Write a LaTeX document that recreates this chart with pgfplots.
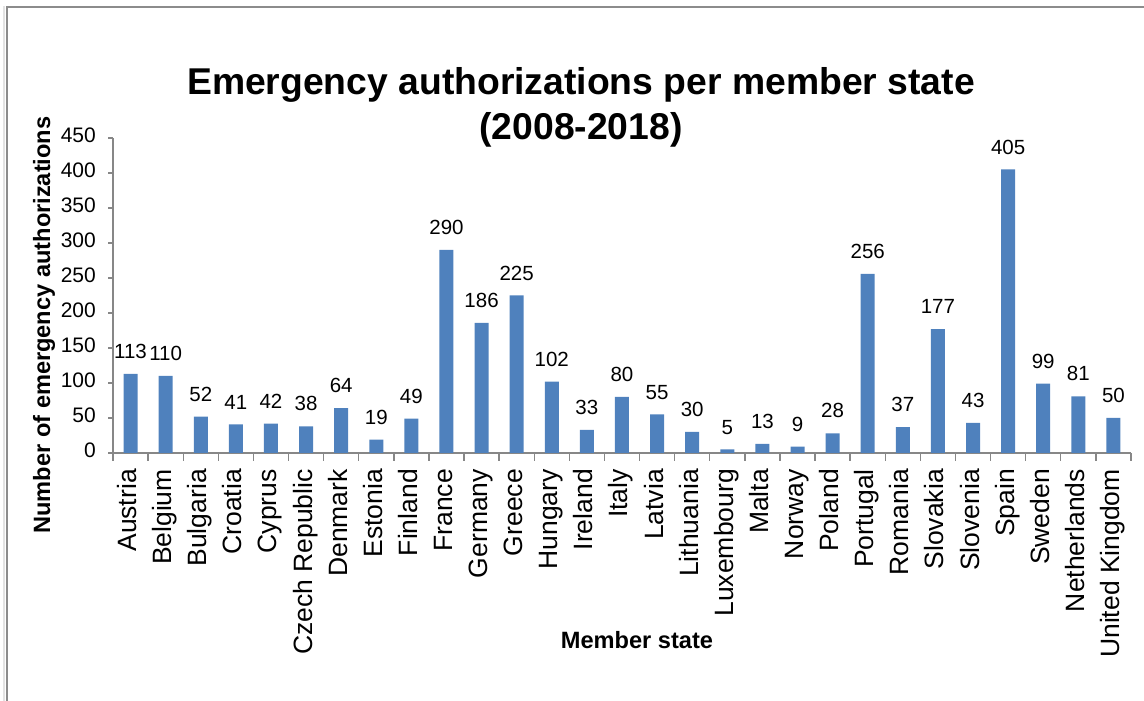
\documentclass[border=0pt]{standalone}
\usepackage{pgfplots}
\pgfplotsset{compat=1.18}
\usepackage{fontspec}
\setmainfont{Liberation Sans}
\definecolor{barblue}{HTML}{4F81BD}
\definecolor{axisgray}{HTML}{878787}
\definecolor{framegray}{HTML}{8C8C8C}

\pgfplotstableread{
x  val
0  113
1  110
2  52
3  41
4  42
5  38
6  64
7  19
8  49
9  290
10 186
11 225
12 102
13 33
14 80
15 55
16 30
17 5
18 13
19 9
20 28
21 256
22 37
23 177
24 43
25 405
26 99
27 81
28 50
}\authdata

\begin{document}
\begin{tikzpicture}[x=1pt,y=1pt]
\useasboundingbox (0,0) rectangle (1144,701);
\clip (0,0) rectangle (1144,701);
% chart frame
\draw[line width=1.5pt, gray!22] (4.2,0) -- (4.2,695.2);
\draw[line width=2pt, framegray] (6.5,0) -- (6.5,693.5) -- (1144,693.5);

\begin{axis}[
  at={(113pt,248pt)}, anchor=south west,
  scale only axis, width=1018pt, height=315pt,
  xmin=-0.5, xmax=28.5, ymin=0, ymax=450,
  axis x line*=bottom, axis y line*=left,
  axis line style={axisgray, line width=1.4pt},
  every tick/.style={axisgray, line width=1.4pt},
  tick align=outside,
  ytick={0,50,...,450},
  major tick length=5pt,
  minor tick length=8pt,
  xtick={0,...,28},
  major x tick style={draw=none},
  minor xtick={-0.5,0.5,...,28.5},
  xticklabels={Austria,Belgium,Bulgaria,Croatia,Cyprus,Czech Republic,Denmark,Estonia,Finland,France,Germany,Greece,Hungary,Ireland,Italy,Latvia,Lithuania,Luxembourg,Malta,Norway,Poland,Portugal,Romania,Slovakia,Slovenia,Spain,Sweden,Netherlands,United Kingdom},
  xticklabel style={rotate=90, anchor=east, inner sep=0pt, font=\fontsize{26.5}{30}\selectfont, text=black, xshift=-11pt},
  yticklabel style={anchor=east, inner sep=0pt, font=\fontsize{21}{24}\selectfont, text=black, xshift=-12pt},
  /pgf/number format/assume math mode=true,
  typeset ticklabels with strut=false,
  ybar, bar width=14pt,
  nodes near coords,
  every node near coord/.append style={font=\fontsize{20.5}{24}\selectfont, text=black, anchor=south, inner sep=0pt, yshift=15pt},
  clip=false,
]
\addplot[fill=barblue, draw=none] table[x=x, y=val] {\authdata};
\end{axis}

% titles and axis labels
\node[anchor=base, font=\fontsize{37.3}{40}\selectfont\bfseries] at (581,606) {Emergency authorizations per member state};
\node[anchor=base, font=\fontsize{37.3}{40}\selectfont\bfseries] at (581,561) {(2008-2018)};
\node[anchor=base, font=\fontsize{23.6}{26}\selectfont\bfseries] at (637,52) {Member state};
\node[anchor=base, rotate=90, font=\fontsize{23.6}{26}\selectfont\bfseries] at (50,376) {Number of emergency authorizations};
\end{tikzpicture}
\end{document}
